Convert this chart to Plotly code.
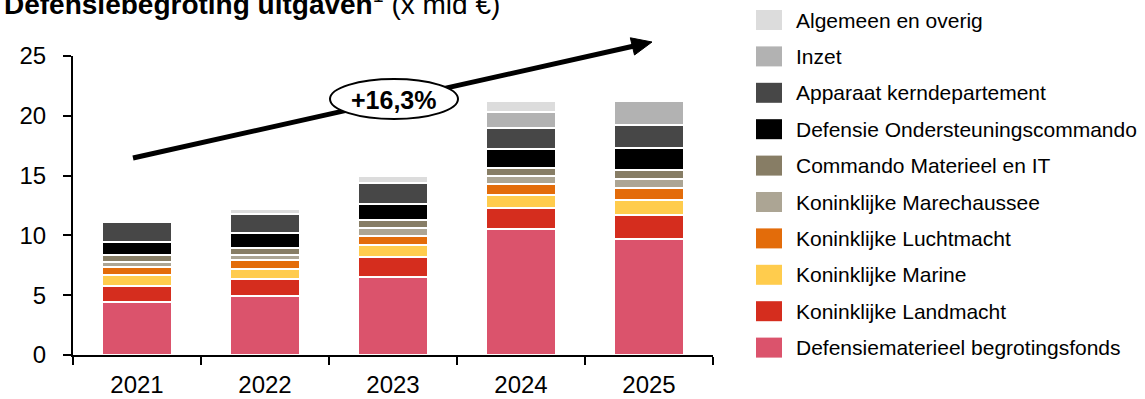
import plotly.graph_objects as go

years = ["2021", "2022", "2023", "2024", "2025"]

# stack order bottom -> top
series_names = [
    "Defensiematerieel begrotingsfonds",
    "Koninklijke Landmacht",
    "Koninklijke Marine",
    "Koninklijke Luchtmacht",
    "Koninklijke Marechaussee",
    "Commando Materieel en IT",
    "Defensie Ondersteuningscommando",
    "Apparaat kerndepartement",
    "Inzet",
    "Algemeen en overig",
]
series_colors = [
    "#db536c", "#d52d1e", "#ffcc4d", "#e36c0a", "#aca594",
    "#877d65", "#000000", "#474747", "#b2b2b2", "#dcdcdc",
]

dmf = [4.46, 4.91, 6.49, 10.50, 9.71]
landmacht = [1.32, 1.45, 1.67, 1.80, 2.00]
marine = [0.90, 0.79, 1.01, 1.09, 1.22]
luchtmacht = [0.67, 0.76, 0.76, 0.89, 1.01]
marechaussee = [0.46, 0.46, 0.69, 0.67, 0.79]
cmi = [0.55, 0.55, 0.67, 0.69, 0.78]
dosco = [1.12, 1.25, 1.34, 1.58, 1.79]
apparaat = [1.66, 1.60, 1.72, 1.78, 1.90]
inzet = [None, None, None, 1.34, 2.01]
algemeen = [None, 0.45, 0.60, 0.90, None]

series_values = [dmf, landmacht, marine, luchtmacht, marechaussee,
                 cmi, dosco, apparaat, inzet, algemeen]

y_ticks = [0, 5, 10, 15, 20, 25]
growth_label = "+16,3%"
title_html = "<b>Defensiebegroting uitgaven</b><sup>1</sup> (x mld €)"

FONT = "Liberation Sans, Arial, sans-serif"

fig = go.Figure()
for name, color, vals in zip(series_names, series_colors, series_values):
    fig.add_trace(go.Bar(
        x=years, y=vals, name=name,
        marker=dict(color=color, line=dict(color="white", width=2)),
        showlegend=False,
    ))

W, H = 1145, 399
L, R, T, B = 73, 432, 56, 44
pw, ph = W - L - R, H - T - B


def px(x):
    return (x - L) / pw


def py(y):
    return (H - B - y) / ph


shapes = []
# trend arrow (decoration)
shapes.append(dict(type="line", xref="paper", yref="paper",
                   x0=px(133), y0=py(158), x1=px(633), y1=py(46.3),
                   line=dict(color="black", width=5)))
tip = (652, 42)
c1 = (634.5, 55.0)
c2 = (630.3, 37.8)
shapes.append(dict(type="path", xref="paper", yref="paper",
                   path=f"M{px(tip[0])},{py(tip[1])} L{px(c1[0])},{py(c1[1])} L{px(c2[0])},{py(c2[1])} Z",
                   fillcolor="black", line=dict(color="black", width=1)))
shapes.append(dict(type="circle", xref="paper", yref="paper",
                   x0=px(330), x1=px(458), y0=py(119), y1=py(79),
                   fillcolor="white", line=dict(color="black", width=2)))

annotations = []
annotations.append(dict(xref="paper", yref="paper", x=px(394), y=py(100),
                        text=f"<b>{growth_label}</b>", showarrow=False,
                        font=dict(family=FONT, size=25, color="black"),
                        xanchor="center", yanchor="middle"))
annotations.append(dict(xref="paper", yref="paper", x=px(2), y=py(22),
                        text=title_html, showarrow=False,
                        font=dict(family=FONT, size=28, color="black"),
                        xanchor="left", yanchor="bottom"))

# custom legend built from series lists (top -> bottom reversed stack)
for i, (name, color) in enumerate(zip(series_names[::-1], series_colors[::-1])):
    cy = 20 + 36.4 * i
    shapes.append(dict(type="rect", xref="paper", yref="paper",
                       x0=px(756), x1=px(782), y0=py(cy + 10), y1=py(cy - 10),
                       fillcolor=color, line=dict(width=0)))
    annotations.append(dict(xref="paper", yref="paper", x=px(794), y=py(cy),
                            text=name, showarrow=False,
                            font=dict(family=FONT, size=21, color="black"),
                            xanchor="left", yanchor="middle"))

fig.update_layout(
    barmode="stack",
    bargap=0.45,
    width=W, height=H,
    margin=dict(l=L, r=R, t=T, b=B, pad=0, autoexpand=False),
    paper_bgcolor="white",
    plot_bgcolor="white",
    font=dict(family=FONT, size=24, color="black"),
    shapes=shapes,
    annotations=annotations,
    xaxis=dict(
        type="category",
        automargin=False,
        showline=True, linecolor="black", linewidth=2,
        ticks="outside", tickson="boundaries", ticklen=8,
        tickcolor="black", tickwidth=2,
        tickfont=dict(family=FONT, size=24, color="black"),
        showgrid=False, zeroline=False,
        ticklabelstandoff=7,
    ),
    yaxis=dict(
        range=[0, 25],
        automargin=False,
        tickvals=y_ticks,
        showline=True, linecolor="black", linewidth=2,
        ticks="outside", ticklen=8, tickcolor="black", tickwidth=2,
        tickfont=dict(family=FONT, size=24, color="black"),
        showgrid=False, zeroline=False,
        ticklabelstandoff=12,
    ),
)

fig.write_html("out.html")
